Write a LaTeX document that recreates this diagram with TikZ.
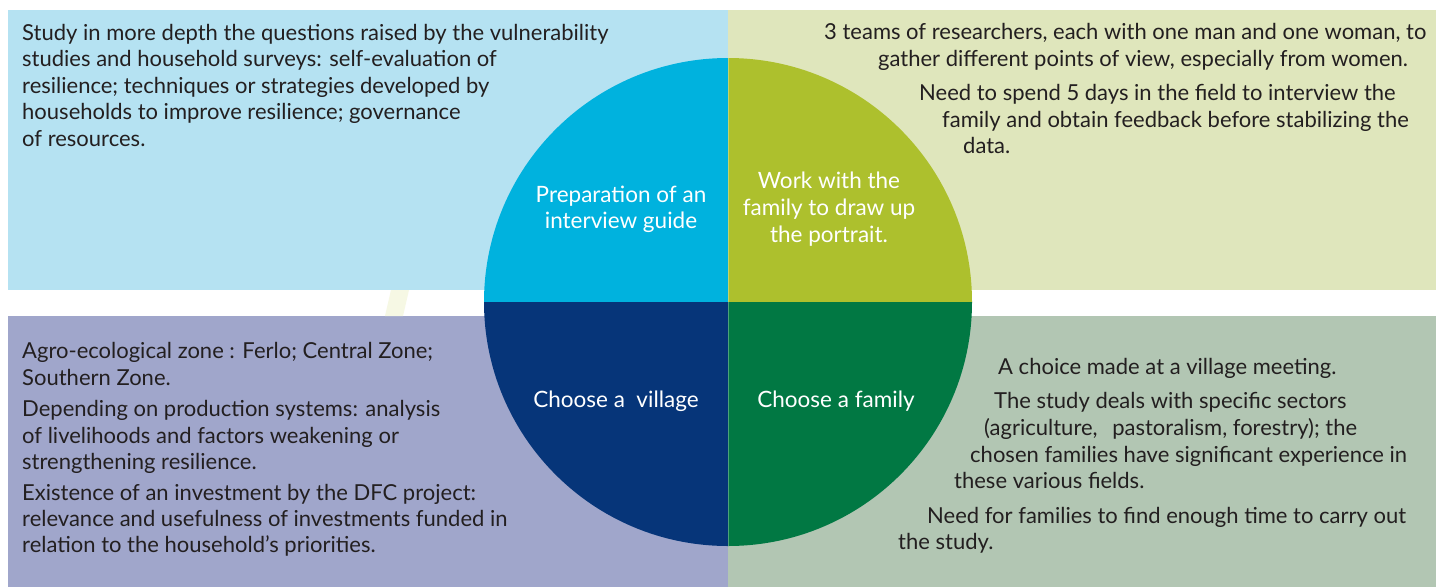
\documentclass[tikz,border=0pt]{standalone}
\usepackage{fontspec}
\setmainfont{Lato}
\definecolor{pTL}{HTML}{B5E2F2}
\definecolor{pTR}{HTML}{DFE6BC}
\definecolor{pBL}{HTML}{A0A6CB}
\definecolor{pBR}{HTML}{B2C6B3}
\definecolor{qTL}{HTML}{00B2DE}
\definecolor{qTR}{HTML}{ADC02D}
\definecolor{qBL}{HTML}{063579}
\definecolor{qBR}{HTML}{017843}
\definecolor{ink}{HTML}{231F20}
\definecolor{faint}{HTML}{F6F8E4}
\tikzset{
  ptext/.style={anchor=base west, inner sep=0pt, text=ink, font=\fontsize{22}{26}\selectfont},
  ctext/.style={anchor=base, inner sep=0pt, text=white, font=\fontsize{22.5}{26}\selectfont},
}
\begin{document}
\begin{tikzpicture}[x=1pt,y=-1pt]
\useasboundingbox (0,0) rectangle (1436,587);
\fill[white] (0,0) rectangle (1436,587);
% panels
\fill[pTL] (8,10) rectangle (728,290);
\fill[pTR] (728,10) rectangle (1436,290);
\fill[pBL] (8,316) rectangle (728,587);
\fill[pBR] (728,316) rectangle (1436,587);
\fill[faint] (391,290) -- (409,290) -- (403,316) -- (385,316) -- cycle;
% circle
\begin{scope}
\clip (728,302) circle[radius=244];
\fill[qTL] (480,50) rectangle (728,302);
\fill[qTR] (728,50) rectangle (980,302);
\fill[qBL] (480,302) rectangle (728,550);
\fill[qBR] (728,302) rectangle (980,550);
\draw[white, opacity=0.3, line width=0.8pt] (728,50) -- (728,550);
\end{scope}
% circle labels
\node[ctext] (c1a) at (621,202) {Preparation of an};
\node[ctext] (c1b) at (621,228) {interview guide};
\node[ctext] (c2a) at (829,188) {Work with the};
\node[ctext] (c2b) at (829,215) {family to draw up};
\node[ctext] (c2c) at (829,242) {the portrait.};
\node[ctext] (c3) at (616,407) {Choose a\ \ village};
\node[ctext] (c4) at (836,407) {Choose a family};
% top-left text
\node[ptext] (tl1) at (22,40) {Study in more depth the questions raised by the vulnerability};
\node[ptext] (tl2) at (22,66.5) {studies and household surveys: self-evaluation of};
\node[ptext] (tl3) at (22,93) {resilience; techniques or strategies developed by};
\node[ptext] (tl4) at (22,119.5) {households to improve resilience; governance};
\node[ptext] (tl5) at (22,146) {of resources.};
% top-right text
\node[ptext] (tr1) at (824,39) {3 teams of researchers, each with one man and one woman, to};
\node[ptext] (tr2) at (878,66) {gather different points of view, especially from women.};
\node[ptext] (tr3) at (919,100) {Need to spend 5 days in the field to interview the};
\node[ptext] (tr4) at (942,127) {family and obtain feedback before stabilizing the};
\node[ptext] (tr5) at (963,153) {data.};
% bottom-left text
\node[ptext] (bl1) at (22,358) {Agro-ecological zone : Ferlo; Central Zone;};
\node[ptext] (bl2) at (22,385) {Southern Zone.};
\node[ptext] (bl3) at (22,416) {Depending on production systems: analysis};
\node[ptext] (bl4) at (22,443) {of livelihoods and factors weakening or};
\node[ptext] (bl5) at (22,469) {strengthening resilience.};
\node[ptext] (bl6) at (22,500) {Existence of an investment by the DFC project:};
\node[ptext] (bl7) at (22,526) {relevance and usefulness of investments funded in};
\node[ptext] (bl8) at (22,552) {relation to the household’s priorities.};
% bottom-right text
\node[ptext] (br1) at (998,374) {A choice made at a village meeting.};
\node[ptext] (br2) at (994,408) {The study deals with specific sectors};
\node[ptext] (br3) at (984,435) {(agriculture,\hspace{9pt} pastoralism, forestry); the};
\node[ptext] (br4) at (970,462) {chosen families have significant experience in};
\node[ptext] (br5) at (954,488) {these various fields.};
\node[ptext] (br6) at (927,523) {Need for families to find enough time to carry out};
\node[ptext] (br7) at (898,549) {the study.};
\end{tikzpicture}
\end{document}
